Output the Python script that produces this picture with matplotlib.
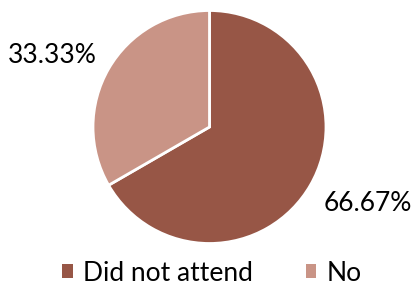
import matplotlib.pyplot as plt
from matplotlib.patches import Patch

# Data
labels = ['Did not attend', 'No']
shares = [66.67, 33.33]
colors = ['#975646', '#C99486']

plt.rcParams['font.family'] = ['Lato', 'DejaVu Sans']

W, H = 416, 296
fig = plt.figure(figsize=(W / 100, H / 100), dpi=100)

# pie centred at (209.5, 127) px with radius ~116.5 px
cx, cy, r = 209.5, 127, 116.5
ax = fig.add_axes([(cx - r) / W, (H - cy - r) / H, 2 * r / W, 2 * r / H])

wedges, texts, autotexts = ax.pie(
    shares, colors=colors, startangle=90, counterclock=False,
    autopct='%.2f%%', pctdistance=1.5, radius=1,
    wedgeprops=dict(edgecolor='white', linewidth=2),
    textprops=dict(fontsize=19, color='black'))
# nudge the percentage labels to where they sit in the original
autotexts[0].set_position((1.36, -0.66))
autotexts[1].set_position((-1.35, 0.61))
ax.set_xlim(-1, 1)
ax.set_ylim(-1, 1)
ax.set_aspect('equal')

handles = [Patch(facecolor=c, edgecolor='none') for c in colors]
fig.legend(handles, labels, loc='lower center', ncol=2, frameon=False,
           fontsize=19, handlelength=0.4, handleheight=0.4, handletextpad=0.4,
           columnspacing=2.0, bbox_to_anchor=(0.51, -0.045))

fig.savefig('out.png', dpi=100)
